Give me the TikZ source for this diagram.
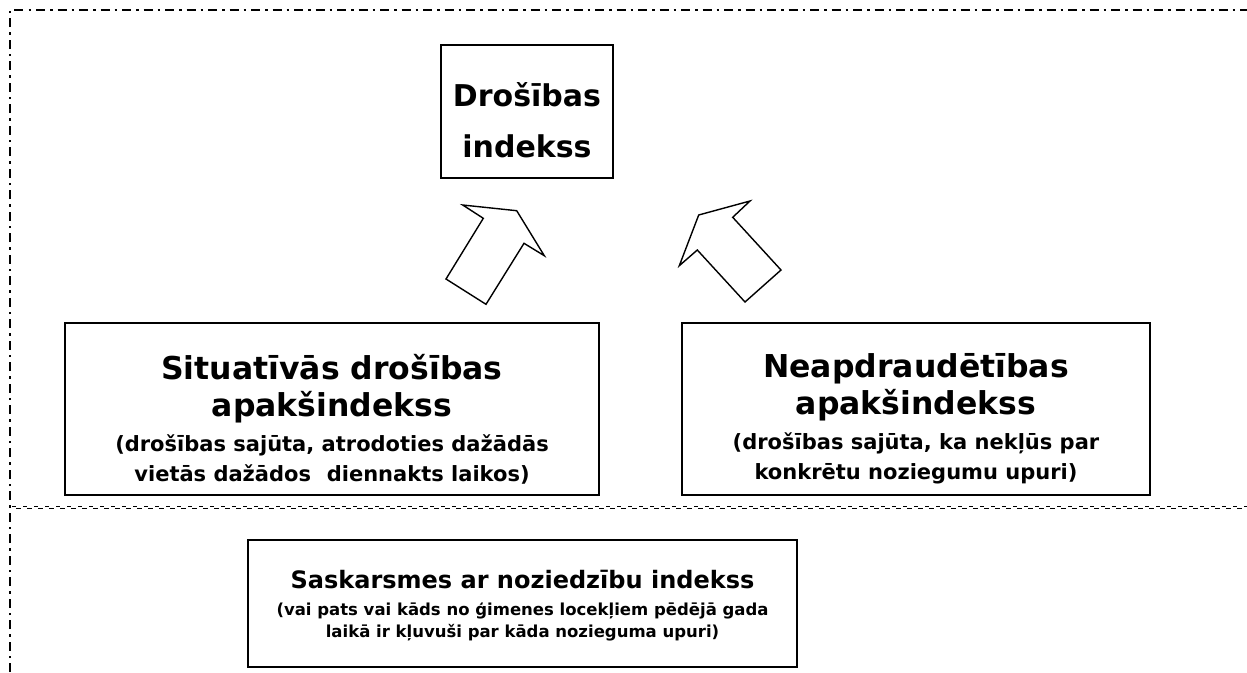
\documentclass[tikz,border=0pt]{standalone}
\usepackage{fontspec}
\setmainfont{DejaVu Sans}
\usetikzlibrary{positioning}
\newcommand{\bigttl}{\fontsize{31.5}{37}\selectfont\bfseries}
\newcommand{\topttl}{\fontsize{30}{37}\selectfont\bfseries}
\newcommand{\smallsub}{\fontsize{21}{29}\selectfont\bfseries}
\newcommand{\lowttl}{\fontsize{24}{30}\selectfont\bfseries}
\newcommand{\lowsub}{\fontsize{16.5}{21}\selectfont\bfseries}
\tikzset{
  box/.style={draw,line width=1.5pt,inner sep=0pt},
  boxtext/.style={align=center,inner sep=0pt},
  blockarrow/.style={draw,line width=1.4pt,line join=miter},
}
\begin{document}
\begin{tikzpicture}[x=1pt,y=-1pt]
\useasboundingbox (0,0) rectangle (1247,672);
% frame
\draw[line width=1.8pt,dash pattern=on 9pt off 5pt on 2.5pt off 5pt] (10,672) -- (10,10) -- (1247,10);
\draw[line width=1.6pt,dash pattern=on 4pt off 7pt] (12,506.5) -- (1247,506.5);
\draw[line width=1.6pt,dash pattern=on 5pt off 6pt,dash phase=7pt] (12,508.5) -- (1247,508.5);

% boxes
\node[box,minimum width=172pt,minimum height=133pt] (dros) at (527,111.5) {};
\node[box,minimum width=534pt,minimum height=172pt] (sit) at (332,409) {};
\node[box,minimum width=468pt,minimum height=172pt] (neap) at (916,409) {};
\node[box,minimum width=549pt,minimum height=127pt] (sask) at (522.5,603.5) {};

% texts
\node[boxtext,font=\topttl] (drostxt) at ([yshift=-9pt]dros.center) {Drošības\\[14pt]indekss};
\node[boxtext,font=\bigttl] (sittxt) at ([yshift=-10pt]sit.center)
  {Situatīvās drošības\\apakšindekss\\[-2pt]{\smallsub (drošības sajūta, atrodoties dažādās}\\[-7pt]{\smallsub vietās dažādos\hspace{0.4em} diennakts laikos)}};
\node[boxtext,font=\bigttl] (neaptxt) at ([yshift=-10pt]neap.center)
  {Neapdraudētības\\apakšindekss\\[-2pt]{\smallsub (drošības sajūta, ka nekļūs par}\\[-7pt]{\smallsub konkrētu noziegumu upuri)}};
\node[boxtext,font=\lowttl] (sasktxt) at ([yshift=-2pt]sask.center)
  {Saskarsmes ar noziedzību indekss\\[-3pt]{\lowsub (vai pats vai kāds no ģimenes locekļiem pēdējā gada}\\[-8pt]{\lowsub laikā ir kļuvuši par kāda nozieguma upuri)}};

% block arrows
\draw[blockarrow] (462.7,205) -- (483.3,218.3) -- (446,279) -- (486,304.3) -- (524,243.3) -- (544.3,255.7) -- (516.7,210.7) -- cycle;
\draw[blockarrow] (750,201) -- (732.7,217.3) -- (781,270) -- (745,302) -- (697.3,250) -- (679.3,265.7) -- (698.7,215) -- cycle;
\end{tikzpicture}
\end{document}
